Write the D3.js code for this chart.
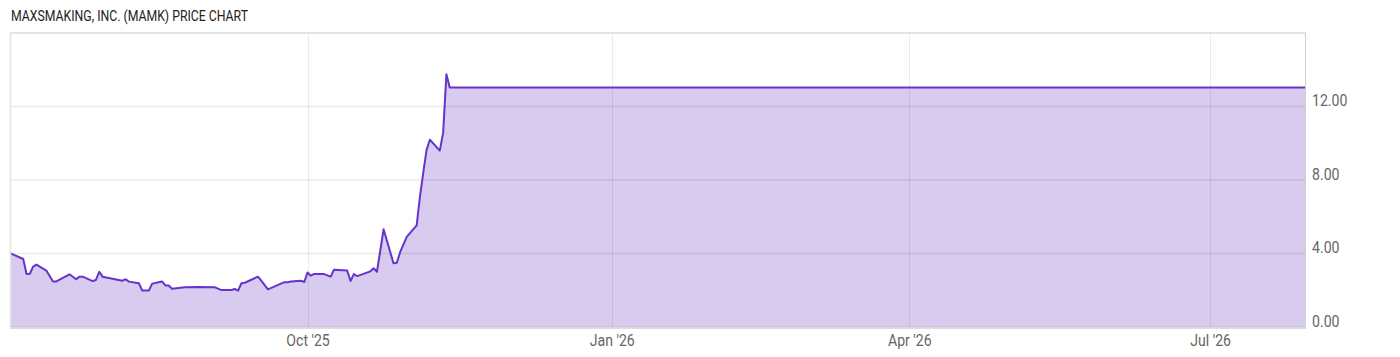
<!DOCTYPE html>
<html>
<head>
<meta charset="utf-8">
<script src="https://cdn.jsdelivr.net/npm/d3@7"></script>
<style>
  body { margin: 0; background: #fff; }
  svg { display: block; font-family: Roboto, sans-serif; }
</style>
</head>
<body>
<div id="chart"></div>
<script>
var title = "MAXSMAKING, INC. (MAMK) PRICE CHART";

var dates = [
  "2025-07-03", "2025-07-07", "2025-07-08", "2025-07-09", "2025-07-10", "2025-07-11",
  "2025-07-14", "2025-07-16", "2025-07-17", "2025-07-21", "2025-07-23", "2025-07-24",
  "2025-07-25", "2025-07-28", "2025-07-29", "2025-07-30", "2025-07-31", "2025-08-06",
  "2025-08-07", "2025-08-08", "2025-08-11", "2025-08-12", "2025-08-14", "2025-08-15",
  "2025-08-18", "2025-08-19", "2025-08-20", "2025-08-21", "2025-08-25", "2025-08-29",
  "2025-09-03", "2025-09-05", "2025-09-08", "2025-09-09", "2025-09-10", "2025-09-11",
  "2025-09-12", "2025-09-16", "2025-09-17", "2025-09-19", "2025-09-24", "2025-09-25",
  "2025-09-26", "2025-09-29", "2025-09-30", "2025-10-01", "2025-10-02", "2025-10-03",
  "2025-10-06", "2025-10-08", "2025-10-09", "2025-10-13", "2025-10-14", "2025-10-15",
  "2025-10-16", "2025-10-20", "2025-10-21", "2025-10-22", "2025-10-24", "2025-10-27",
  "2025-10-28", "2025-10-29", "2025-10-31", "2025-11-03", "2025-11-04", "2025-11-05",
  "2025-11-06", "2025-11-07", "2025-11-10", "2025-11-11", "2025-11-12", "2025-11-13",
  "2026-07-30"
];

var prices = [
  4.02, 3.70, 2.88, 2.90, 3.29, 3.40,
  3.07, 2.48, 2.48, 2.87, 2.60, 2.74,
  2.74, 2.50, 2.56, 3.00, 2.74, 2.52,
  2.60, 2.47, 2.38, 1.98, 1.98, 2.36,
  2.48, 2.26, 2.26, 2.08, 2.16, 2.18,
  2.16, 2.01, 2.01, 2.07, 1.98, 2.38,
  2.41, 2.74, 2.52, 2.05, 2.44, 2.44,
  2.48, 2.52, 2.45, 2.97, 2.79, 2.89,
  2.88, 2.74, 3.12, 3.07, 2.50, 2.88,
  2.77, 3.03, 3.20, 3.01, 5.32, 3.47,
  3.50, 4.07, 4.90, 5.53, 7.10, 8.40,
  9.64, 10.19, 9.60, 10.55, 13.75, 13.03,
  13.03
];

var yTicks = [0, 4, 8, 12];
var xTicks = ["2025-10-01", "2026-01-01", "2026-04-01", "2026-07-01"];
var xTickLabels = ["Oct '25", "Jan '26", "Apr '26", "Jul '26"];

var W = 1400, H = 357;
var plotL = 10, plotR = 1306, plotT = 33, plotB = 327;

var parse = d3.timeParse("%Y-%m-%d");
var data = dates.map(function(d, i) { return { date: parse(d), value: prices[i] }; });

var x = d3.scaleTime()
  .domain(d3.extent(data, function(d) { return d.date; }))
  .range([plotL, plotR]);
var y = d3.scaleLinear().domain([0, 16]).range([plotB, plotT]);

var svg = d3.select("#chart").append("svg")
  .attr("width", W)
  .attr("height", H);

// squeeze text to look like a condensed face
function condense(sel, k) {
  sel.each(function() {
    var len = this.getComputedTextLength();
    d3.select(this).attr("textLength", len * k).attr("lengthAdjust", "spacingAndGlyphs");
  });
}

svg.append("text")
  .attr("x", 11)
  .attr("y", 21)
  .attr("font-size", 14)
  .attr("fill", "#222")
  .attr("textLength", 237)
  .attr("lengthAdjust", "spacingAndGlyphs")
  .text(title);

var area = d3.area()
  .x(function(d) { return x(d.date); })
  .y0(y(0))
  .y1(function(d) { return y(d.value); });

var line = d3.line()
  .x(function(d) { return x(d.date); })
  .y(function(d) { return y(d.value); });

svg.append("path")
  .datum(data)
  .attr("d", area)
  .attr("fill", "#d7cbef");

// grid lines
svg.selectAll(".hgrid")
  .data(yTicks)
  .enter()
  .append("line")
  .attr("x1", plotL).attr("x2", plotR)
  .attr("y1", function(d) { return y(d); })
  .attr("y2", function(d) { return y(d); })
  .attr("stroke", "rgba(0,0,0,0.08)")
  .attr("stroke-width", 1.5);

svg.selectAll(".vgrid")
  .data(xTicks)
  .enter()
  .append("line")
  .attr("x1", function(d) { return Math.round(x(parse(d))) + 0.5; })
  .attr("x2", function(d) { return Math.round(x(parse(d))) + 0.5; })
  .attr("y1", plotT).attr("y2", plotB)
  .attr("stroke", "rgba(0,0,0,0.08)")
  .attr("stroke-width", 1);

svg.append("path")
  .datum(data)
  .attr("d", line)
  .attr("fill", "none")
  .attr("stroke", "#6633cc")
  .attr("stroke-width", 2)
  .attr("stroke-linejoin", "round");

// borders
svg.append("line")
  .attr("x1", plotL).attr("x2", plotR).attr("y1", plotT).attr("y2", plotT)
  .attr("stroke", "#e3e3e3").attr("stroke-width", 2);
svg.append("line")
  .attr("x1", plotL + 0.5).attr("x2", plotL + 0.5).attr("y1", plotT).attr("y2", plotB)
  .attr("stroke", "#e3e3e3").attr("stroke-width", 1.5);
svg.append("line")
  .attr("x1", plotR - 0.5).attr("x2", plotR - 0.5).attr("y1", plotT).attr("y2", plotB)
  .attr("stroke", "#d0d0d0").attr("stroke-width", 1);
svg.append("line")
  .attr("x1", plotL).attr("x2", plotR).attr("y1", plotB + 1).attr("y2", plotB + 1)
  .attr("stroke", "#dcdcdc").attr("stroke-width", 2);

// y axis labels
var yAxis = d3.axisRight(y).tickValues(yTicks).tickFormat(d3.format(".2f")).tickSize(0).tickPadding(0);
var gy = svg.append("g").attr("transform", "translate(" + (plotR + 6) + ",0)").call(yAxis);
gy.select(".domain").remove();
gy.selectAll("text")
  .attr("dy", "-1px")
  .attr("font-family", "Roboto, sans-serif")
  .attr("font-size", 16)
  .attr("fill", "#666")
  .call(condense, 0.88);

// x axis labels
var xAxis = d3.axisBottom(x)
  .tickValues(xTicks.map(parse))
  .tickFormat(function(d, i) { return xTickLabels[i]; })
  .tickSize(0).tickPadding(0);
var gx = svg.append("g").attr("transform", "translate(0," + (plotB + 19) + ")").call(xAxis);
gx.select(".domain").remove();
gx.selectAll("text")
  .attr("dy", 0)
  .attr("font-family", "Roboto, sans-serif")
  .attr("font-size", 16)
  .attr("fill", "#666")
  .call(condense, 0.88);
</script>
</body>
</html>
